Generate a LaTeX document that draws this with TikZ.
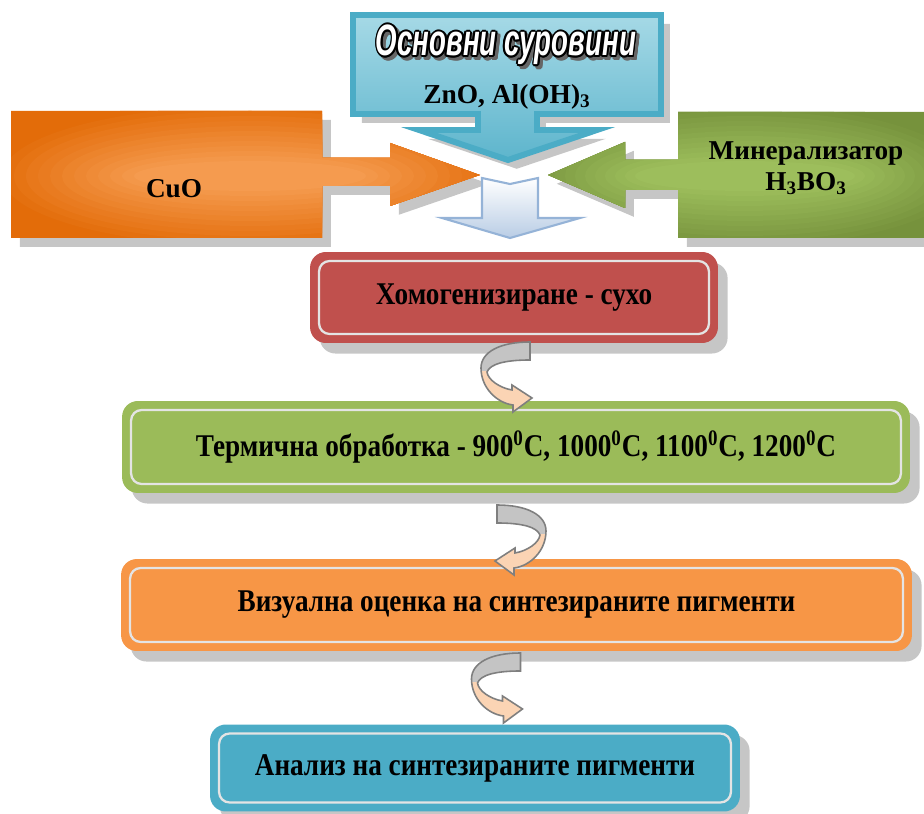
\documentclass[tikz,border=0pt]{standalone}
\usepackage{fontspec}
\setmainfont{Liberation Serif}
\newfontfamily\narrowserif[FakeStretch=0.86]{Liberation Serif}
\newfontfamily\wordartfont[FakeStretch=0.63]{Liberation Sans}
\usetikzlibrary{calc, shadows}

\definecolor{rawblue}{HTML}{4BACC6}
\definecolor{rawlight}{HTML}{A6D9E6}
\definecolor{cuodark}{HTML}{E36C09}
\definecolor{cuolight}{HTML}{F59B4F}
\definecolor{mindark}{HTML}{76923C}
\definecolor{minlight}{HTML}{9DBE5C}
\definecolor{mixtop}{HTML}{FFFFFF}
\definecolor{mixbottom}{HTML}{B9CDE5}
\definecolor{mixline}{HTML}{95B3D7}
\definecolor{homogred}{HTML}{C0504D}
\definecolor{thermgreen}{HTML}{9BBB59}
\definecolor{visorange}{HTML}{F79646}
\definecolor{anablue}{HTML}{4BACC6}
\definecolor{shadowgray}{HTML}{C6C6C6}
\definecolor{rimgray}{HTML}{E4E4E4}
\definecolor{turngray}{HTML}{C4C4C4}
\definecolor{turnpeach}{HTML}{FBD4B4}
\definecolor{turnline}{HTML}{7F7F7F}

\newcommand\stagefont{\narrowserif\bfseries\fontsize{18}{20}\selectfont}
\newcommand\wordart{\wordartfont\bfseries\itshape\fontsize{25}{27}\selectfont}

\tikzset{
	stage/.style={rounded corners=9pt, inner sep=0pt, outer sep=0pt, align=center, font=\stagefont,
		drop shadow={shadow xshift=5.5pt, shadow yshift=-6pt, fill=shadowgray, opacity=1}},
	innerline/.style={draw=rimgray, line width=1.3pt, rounded corners=6pt},
	callout/.style={drop shadow={shadow xshift=5pt, shadow yshift=-5pt, fill=shadowgray, opacity=1}},
	uturn/.pic={
		\filldraw [draw=turnline, line width=0.9pt, fill=turnpeach,
			path picture={\fill [turngray] (path picture bounding box.north west) rectangle ($(path picture bounding box.north east)!0.42!(path picture bounding box.south east)$);}]
			(0,0) .. controls (-30,0) and (-49,10) .. (-49,26)
			.. controls (-49,46) and (-33,61) .. (-17,63)
			-- (-17,70) -- (2,56) -- (-18,43) -- (-18,48)
			.. controls (-30,46) and (-42,38) .. (-43,30)
			.. controls (-40,22) and (-25,18) .. (0,18) -- cycle;
	}
}

\begin{document}
\begin{tikzpicture}[x=0.02cm, y=-0.02cm]
		\useasboundingbox (0,0) rectangle (924,814);
		
		\def\cuoshape{(11,111) -- (322,111) -- (322,158) -- (390,158) -- (390,143) -- (480,175)
			-- (390,206) -- (390,186) -- (322,186) -- (322,238) -- (11,238) -- cycle}
		\def\minshape{(924,112) -- (678,112) -- (678,160) -- (625,160) -- (625,142) -- (548,175)
			-- (625,208) -- (625,190) -- (678,190) -- (678,238) -- (924,238) -- cycle}
		
		% raw materials, coming from three sides
		\fill [shadowgray, xshift=5pt, yshift=-5pt] \cuoshape;
		\fill [shadowgray, xshift=5pt, yshift=-5pt] \minshape;
		\begin{scope}
			\clip \cuoshape;
			\fill [cuodark] \cuoshape;
			\foreach \i in {0,...,12} {
				\pgfmathtruncatemacro\p{100*\i/12}
				\fill [cuolight!\p!cuodark] (250,176) ellipse [x radius=260-12*\i, y radius=75-5*\i];
			}
		\end{scope}
		\begin{scope}
			\clip \minshape;
			\fill [mindark] \minshape;
			\foreach \i in {0,...,12} {
				\pgfmathtruncatemacro\p{100*\i/12}
				\fill [minlight!\p!mindark] (745,176) ellipse [x radius=230-10*\i, y radius=75-5*\i];
			}
		\end{scope}
		
		\filldraw [callout, top color=rawlight, bottom color=rawblue!80!rawlight, draw=rawblue, line width=3.4pt]
			(353,15) -- (661,15) -- (661,114) -- (537,114) -- (537,130) -- (597,130) -- (508,160)
			-- (419,130) -- (478,130) -- (478,114) -- (353,114) -- cycle;
		
		\filldraw [top color=mixtop, bottom color=mixbottom, draw=mixline, line width=1.2pt]
			(482,178) -- (510,184) -- (538,178) -- (538,218) -- (580,218) -- (510,238)
			-- (442,218) -- (482,218) -- cycle;
		
		% labels of the raw materials
		\foreach \a in {0,30,...,330}
			\node [font=\wordart, text=black!60] at ($(509,48)+(\a:1.8)$) {Основни суровини};
		\foreach \a in {0,30,...,330}
			\node [font=\wordart, text=black] at ($(506,45)+(\a:1.8)$) {Основни суровини};
		\node (rawtitle) [font=\wordart, text=white] at (506,45) {Основни суровини};
		\node (rawformula) [font=\bfseries\fontsize{15.6}{17}\selectfont] at (507,97) {ZnO, Al(OH)\textsubscript{3}};
		\node (cuo) [font=\bfseries\fontsize{15.5}{18}\selectfont] at (174,189) {CuO};
		\node (mineral) [font=\bfseries\fontsize{15.5}{18}\selectfont, align=center] at (806,168) {Минерализатор\\H\textsubscript{3}BO\textsubscript{3}};
		
		% process steps
		\node (homog) [stage, fill=homogred, minimum width=8.16cm, minimum height=1.82cm] at (514,297.5) {Хомогенизиране - сухо};
		\node (thermal) [stage, fill=thermgreen, minimum width=15.76cm, minimum height=1.84cm] at (516,447) {Термична обработка - 900\textsuperscript{0}C, 1000\textsuperscript{0}C, 1100\textsuperscript{0}C, 1200\textsuperscript{0}C};
		\node (visual) [stage, fill=visorange, minimum width=15.82cm, minimum height=1.84cm] at (516.5,605) {Визуална оценка на синтезираните пигменти};
		\node (analysis) [stage, fill=anablue, minimum width=10.6cm, minimum height=1.74cm] at (475,768) {Анализ на синтезираните пигменти};
		
		\foreach \n in {homog, thermal, visual, analysis}
			\draw [innerline] ($(\n.north west)+(9,9)$) rectangle ($(\n.south east)+(-9,-9)$);
		
		% turning arrows between the steps
		\pic at ($(homog.south)+(16,-1)$) {uturn};
		\pic [xscale=-1] at ($(thermal.south)+(-19,12)$) {uturn};
		\pic at ($(visual.south)+(4,2)$) {uturn};
	\end{tikzpicture}
\end{document}
